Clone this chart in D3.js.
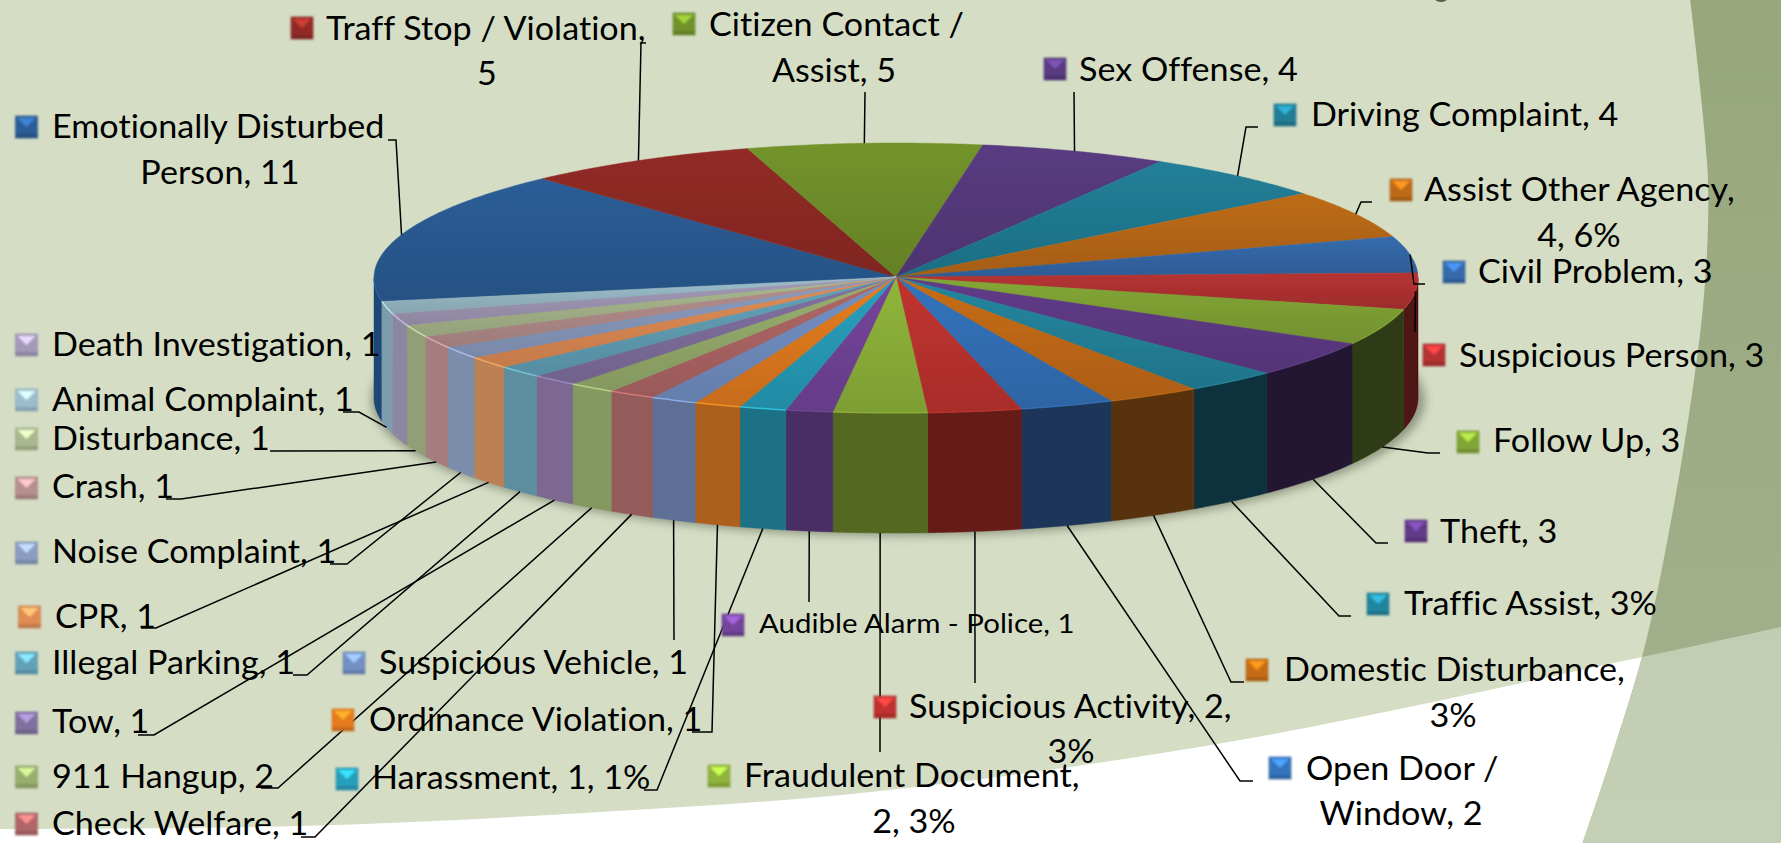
<!DOCTYPE html>
<html>
<head>
<meta charset="utf-8">
<style>
html, body { margin: 0; padding: 0; background: #d5dec5; overflow: hidden; }
text { font-family: Lato, "Open Sans", sans-serif; fill: #000; font-variant-ligatures: none; }
</style>
<script src="https://cdn.jsdelivr.net/npm/d3@7"></script>
</head>
<body>
<div id="chart"></div>
<script>
var width = 1781;
var height = 843;

// slices, clockwise, the order the chart draws them
var categories = ["Emotionally Disturbed Person", "Traff Stop / Violation", "Citizen Contact / Assist",
    "Sex Offense", "Driving Complaint", "Assist Other Agency", "Civil Problem", "Suspicious Person",
    "Follow Up", "Theft", "Traffic Assist", "Domestic Disturbance", "Open Door / Window",
    "Suspicious Activity", "Fraudulent Document", "Audible Alarm - Police", "Harassment",
    "Ordinance Violation", "Suspicious Vehicle", "Check Welfare", "911 Hangup", "Tow", "Illegal Parking",
    "CPR", "Noise Complaint", "Crash", "Disturbance", "Death Investigation", "Animal Complaint"];
var values = [11, 5, 5, 4, 4, 4, 3, 3, 3, 3, 2, 2, 2, 2, 2, 1, 1, 1, 1, 1, 1, 1, 1, 1, 1, 1, 1, 1, 1];

// what the labels say, one entry per line
var labelLines = [
    ["Emotionally Disturbed", "Person, 11"], ["Traff Stop / Violation,", "5"], ["Citizen Contact /", "Assist, 5"],
    ["Sex Offense, 4"], ["Driving Complaint, 4"], ["Assist Other Agency,", "4, 6%"], ["Civil Problem, 3"],
    ["Suspicious Person, 3"], ["Follow Up, 3"], ["Theft, 3"], ["Traffic Assist, 3%"],
    ["Domestic Disturbance,", "3%"], ["Open Door /", "Window, 2"], ["Suspicious Activity, 2,", "3%"],
    ["Fraudulent Document,", "2, 3%"], ["Audible Alarm - Police, 1"], ["Harassment, 1, 1%"],
    ["Ordinance Violation, 1"], ["Suspicious Vehicle, 1"], ["Check Welfare, 1"], ["911 Hangup, 2"], ["Tow, 1"],
    ["Illegal Parking, 1"], ["CPR, 1"], ["Noise Complaint, 1"], ["Crash, 1"], ["Disturbance, 1"],
    ["Death Investigation, 1"], ["Animal Complaint, 1"]];

var sliceColors = ["#2b5d96", "#912b26", "#72932b", "#583b80", "#217e97", "#bd6b17", "#3569ab", "#b53232",
    "#82a636", "#603b88", "#23859e", "#c66c15", "#3473bc", "#c03330", "#8fb53a", "#74459b", "#289fbc",
    "#e47c1e", "#7390c4", "#b06666", "#98ae6e", "#80709f", "#62a2b8", "#e08c55", "#8a9cc0", "#b58e8e",
    "#a9b88e", "#a399b8", "#9bbdcb"];
var wallColors = ["#1e4776", "#6a1d19", "#556822", "#3b2a5c", "#155768", "#8a4d10", "#264b7c", "#4f1212",
    "#2f3a12", "#241732", "#0f333d", "#59300c", "#1c3659", "#661c19", "#556822", "#4a2e63", "#1f7186",
    "#ad5f1b", "#5f7097", "#955a5a", "#84985f", "#7b6890", "#5d8fa1", "#bb8155", "#7c8cab", "#a57d7e",
    "#919f76", "#8d86a1", "#7c9dad"];

// pie geometry
var cx = 896, cy = 278, rx = 522, ry = 135, depth = 120;
var startDeg = 260;

// label placement: key x, key y, text x, baseline, second line centre, second line baseline
var labelPlace = [
    [15.5, 116, 52, 138, 220, 184], [291, 17, 326, 40, 487, 85], [673, 13, 709, 36, 834, 82],
    [1044, 58, 1079, 81], [1274, 104, 1311, 126], [1390, 179, 1424, 201, 1579, 247],
    [1443, 261, 1478, 283], [1423, 344, 1459, 367], [1457, 431, 1493, 452], [1405, 520, 1440, 543],
    [1367, 593, 1404, 615], [1246, 659, 1284, 681, 1453, 727], [1269, 757, 1306, 780, 1401, 825],
    [874, 696, 909, 718, 1071, 763], [708, 765, 744, 787, 914, 833], [722, 614, 759, 633],
    [336, 768, 372, 789], [332, 709, 369, 731], [343, 652, 379, 674], [15.5, 813, 52, 835],
    [15.5, 766, 52, 788], [15.5, 712, 52, 733], [15.5, 652, 52, 674], [18.5, 606, 55, 628],
    [15.5, 542, 52, 563], [15.5, 477, 52, 498], [15.5, 428, 52, 450], [15.5, 334, 52, 356],
    [15.5, 389, 52, 411]];

// leader lines run from the slice to these bends (none for Death Investigation)
var leaderBends = [
    [[396, 140], [388, 140]], [[641, 43], [646, 43]], [[865, 92]], [[1074, 92]],
    [[1246, 127], [1258, 127]], [[1361, 202], [1372, 202]], [[1414, 284], [1425, 284]], [[1415, 332]],
    [[1428, 453], [1440, 453]], [[1376, 543], [1388, 543]], [[1339, 616], [1351, 616]],
    [[1231, 682], [1244, 682]], [[1240, 781], [1253, 781]], [[975, 683]], [[880, 752]], [[809, 602]],
    [[657, 790], [644, 790]], [[712, 732], [692, 732]], [[674, 640]], [[315, 837], [301, 837]],
    [[278, 788], [261, 788]], [[154, 735], [138, 735]], [[307, 675], [293, 675]], [[156, 628], [141, 628]],
    [[347, 564], [330, 564]], [[181, 499], [166, 499]], [[270, 451]], null, [[359, 412], [343, 412]]];
var topAnchored = 8; // the first slices carry their leader on the top rim, the rest under the wall

var svg = d3.select("#chart").append("svg")
    .attr("width", width)
    .attr("height", height)
    .style("display", "block");

var defs = svg.append("defs");

defs.append("filter").attr("id", "soft").attr("x", "-5%").attr("width", "110%")
    .append("feGaussianBlur").attr("stdDeviation", 0.6);
defs.append("filter").attr("id", "shadow").attr("x", "-5%").attr("y", "-20%").attr("width", "110%").attr("height", "140%")
    .append("feGaussianBlur").attr("stdDeviation", 5);
defs.append("filter").attr("id", "keyBlur").attr("x", "-10%").attr("y", "-10%").attr("width", "120%").attr("height", "120%")
    .append("feGaussianBlur").attr("stdDeviation", 0.8);

// background slide shapes
var bandGrad = defs.append("linearGradient").attr("id", "band").attr("x2", 0).attr("y2", 1);
bandGrad.append("stop").attr("offset", 0).attr("stop-color", "#97a77b");
bandGrad.append("stop").attr("offset", 1).attr("stop-color", "#a4b18f");
var lowGrad = defs.append("linearGradient").attr("id", "low").attr("x2", 0).attr("y2", 1);
lowGrad.append("stop").attr("offset", 0).attr("stop-color", "#bcc6aa");
lowGrad.append("stop").attr("offset", 1).attr("stop-color", "#c5cfb6");

var curve = d3.line().curve(d3.curveCatmullRom);

svg.append("rect").attr("width", width).attr("height", height).attr("fill", "#d5dec5");
var whitePts = [[-5, 829], [300, 826], [600, 812], [880, 791], [1240, 740], [1642, 657], [1790, 625]];
svg.append("path")
    .attr("d", curve(whitePts) + "L1790,850L-5,850Z")
    .attr("fill", "#ffffff");
var bandPts = [[1690, -2], [1707, 161], [1708, 226], [1703, 306], [1693, 387], [1673, 510], [1642, 657], [1582, 845]];
svg.append("path")
    .attr("d", curve(bandPts) + "L1790,845L1790,-2Z")
    .attr("fill", "url(#band)");
var lowClip = defs.append("clipPath").attr("id", "lowClip");
lowClip.append("path").attr("d", curve(whitePts) + "L1790,850L-5,850Z");
svg.append("path")
    .attr("d", curve(bandPts) + "L1790,845L1790,-2Z")
    .attr("clip-path", "url(#lowClip)")
    .attr("fill", "url(#low)");
svg.append("ellipse").attr("cx", 1441).attr("cy", -1).attr("rx", 6).attr("ry", 3).attr("fill", "#55604a");

// the tilted circle: sine goes across, cosine goes up
var sx = d3.scaleLinear().domain([-1, 1]).range([cx - rx, cx + rx]);
var sy = d3.scaleLinear().domain([-1, 1]).range([cy + ry, cy - ry]);

function rim(a) {
    return [sx(Math.sin(a)), sy(Math.cos(a))];
}
function arcPoints(a0, a1) {
    var n = Math.max(2, Math.ceil((a1 - a0) / 0.01));
    return d3.range(n + 1).map(function (i) { return rim(a0 + (a1 - a0) * i / n); });
}
// parts of a slice that face the viewer
function frontPart(d) {
    var parts = [];
    [0, 2 * Math.PI].forEach(function (k) {
        var lo = Math.max(d.startAngle, Math.PI / 2 + k);
        var hi = Math.min(d.endAngle, 3 * Math.PI / 2 + k);
        if (hi > lo) parts.push([lo, hi]);
    });
    return parts;
}

var pie = d3.pie().sort(null)
    .startAngle(startDeg * Math.PI / 180)
    .endAngle((startDeg + 360) * Math.PI / 180);
var slices = pie(values);

var line = d3.line();

// soft shadow under the pie
svg.append("ellipse")
    .attr("cx", cx + 2).attr("cy", cy + depth + 2)
    .attr("rx", rx + 5).attr("ry", ry + 1)
    .attr("fill", "#3c4232").attr("opacity", 0.45)
    .attr("filter", "url(#shadow)");

var pieG = svg.append("g").attr("filter", "url(#soft)");

// side walls
slices.forEach(function (d, i) {
    frontPart(d).forEach(function (p) {
        var top = arcPoints(p[0], p[1]);
        var bottom = top.map(function (q) { return [q[0], q[1] + depth]; }).reverse();
        pieG.append("path")
            .attr("d", line(top.concat(bottom)) + "Z")
            .attr("fill", wallColors[i])
            .attr("stroke", wallColors[i])
            .attr("stroke-width", 0.5);
    });
});

// top face, each slice lit from the top down
slices.forEach(function (d, i) {
    var id = "face" + i;
    var g = defs.append("linearGradient").attr("id", id).attr("x2", 0).attr("y2", 1);
    g.append("stop").attr("offset", 0).attr("stop-color", d3.color(sliceColors[i]).brighter(0.02));
    g.append("stop").attr("offset", 1).attr("stop-color", d3.color(sliceColors[i]).darker(0.38));
    var pts = arcPoints(d.startAngle, d.endAngle);
    pts.unshift([cx, cy - 1]);
    pieG.append("path")
        .attr("d", line(pts) + "Z")
        .attr("fill", "url(#" + id + ")")
        .attr("stroke", "url(#" + id + ")")
        .attr("stroke-width", 0.5);
});

// light edge where the top meets the wall
slices.forEach(function (d, i) {
    frontPart(d).forEach(function (p) {
        pieG.append("path")
            .attr("d", line(arcPoints(p[0], p[1])))
            .attr("fill", "none")
            .attr("stroke", d3.color(sliceColors[i]).brighter(0.8))
            .attr("stroke-opacity", i > 15 ? 0.7 : 0.25)
            .attr("stroke-width", 1.5);
    });
});

// leader lines
slices.forEach(function (d, i) {
    if (!leaderBends[i]) return;
    var mid = (d.startAngle + d.endAngle) / 2;
    var p = rim(mid);
    if (i >= topAnchored) p = [p[0], p[1] + depth];
    svg.append("path")
        .attr("d", line([p].concat(leaderBends[i])))
        .attr("fill", "none")
        .attr("stroke", "#000")
        .attr("stroke-width", 1.5);
});

// legend keys and labels; the slide stretched its text a little sideways
var keySize = 22;
function stretchedText(x, y, fontSize, stretch, anchor, str) {
    svg.append("text")
        .attr("transform", "translate(" + x + "," + y + ") scale(" + stretch + ",1)")
        .attr("text-anchor", anchor)
        .attr("font-size", fontSize)
        .text(str);
}
categories.forEach(function (name, i) {
    var lay = labelPlace[i];
    var c = d3.color(sliceColors[i]);
    var key = svg.append("g").attr("transform", "translate(" + lay[0] + "," + lay[1] + ")")
        .attr("filter", "url(#keyBlur)");
    key.append("rect").attr("width", keySize).attr("height", keySize)
        .attr("fill", c).attr("stroke", c.darker(0.4)).attr("stroke-opacity", 0.6);
    key.append("path")
        .attr("d", line([[2, 2], [keySize - 2, 2], [keySize / 2, keySize * 0.5]]) + "Z")
        .attr("fill", c.brighter(1));
    key.append("rect").attr("y", keySize - 4).attr("width", keySize).attr("height", 4)
        .attr("fill", c.darker(0.7)).attr("opacity", 0.6);

    var small = name === "Audible Alarm - Police";
    var fontSize = small ? 27 : 33;
    var stretch = small ? 1.09 : 1.035;
    stretchedText(lay[2], lay[3], fontSize, stretch, "start", labelLines[i][0]);
    if (labelLines[i][1]) {
        stretchedText(lay[4], lay[5], fontSize, stretch, "middle", labelLines[i][1]);
    }
});
</script>
</body>
</html>
